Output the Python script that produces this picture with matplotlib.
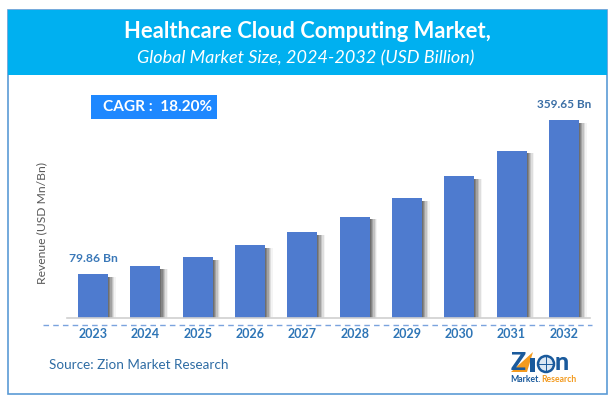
import matplotlib
matplotlib.use("Agg")
import matplotlib.pyplot as plt
import matplotlib.patheffects as pe
from matplotlib.patches import Rectangle, Circle, Polygon

years = ["2023", "2024", "2025", "2026", "2027", "2028", "2029", "2030", "2031", "2032"]
revenue = [79.86, 94.0, 111.0, 132.0, 156.0, 184.0, 218.0, 258.0, 304.0, 359.65]
first_label = "79.86 Bn"
last_label = "359.65 Bn"
W, H = 615, 403
BLUE = "#2e75b6"

plt.rcParams["font.family"] = ["Lato", "DejaVu Sans"]
fig = plt.figure(figsize=(W / 100, H / 100), dpi=100)

# background layer in pixel coords, y down like the picture
bg = fig.add_axes([0, 0, 1, 1])
bg.set_xlim(0, W)
bg.set_ylim(H, 0)
bg.axis("off")
bg.add_patch(Rectangle((8, 10), 599, 384, fc="white", ec="#5b9bd5", lw=1.2))
bg.add_patch(Rectangle((8, 10), 599, 65, fc="#00b0f0", ec="none"))
bg.text(307, 31, "Healthcare Cloud Computing Market,", color="white", fontsize=15.8,
        fontweight="bold", ha="center", va="center")
bg.text(306, 58, "Global Market Size, 2024-2032 (USD Billion)", color="white", fontsize=13,
        style="italic", ha="center", va="center")
bg.add_patch(Rectangle((91, 95), 126, 23.5, fc="#1e88ff", ec="none"))
bg.text(157.5, 107, "CAGR :  18.20%", color="white", fontsize=11.1, fontweight="bold",
        ha="center", va="center")
bg.text(42, 223, "Revenue (USD Mn/Bn)", color="#595959", fontsize=8.7, rotation=90,
        ha="center", va="center")
bg.plot([43, 592], [325, 325], color="#7aa3de", lw=1, ls=(0, (4, 3)))
bg.text(49, 365, "Source: Zion Market Research", color="#2e6ca4", fontsize=9.7,
        ha="left", va="center")

# logo, rough
navy = "#1a5a9c"
orange = "#f39a1e"
bg.text(511, 362, "Z", color=navy, fontsize=18, fontweight="black", ha="left", va="center")
bg.add_patch(Polygon([[511, 372], [533, 352], [527, 372]], fc=orange, ec="none"))
bg.add_patch(Rectangle((530, 358), 5, 14, fc=navy, ec="none"))
bg.add_patch(Circle((546, 364), 8, fc="#dce8f4", ec=navy, lw=1.8))
bg.plot([538, 554], [364, 364], color=navy, lw=0.7)
bg.plot([546, 546], [356, 372], color=navy, lw=0.7)
bg.text(555, 362, "n", color=navy, fontsize=18, fontweight="black", ha="left", va="center")
bg.text(510, 379, "Market.", color=navy, fontsize=6.2, fontweight="bold", ha="left", va="center")
bg.text(541, 379, "Research", color=orange, fontsize=6.2, fontweight="bold", ha="left", va="center")

# bars
base_px, top_px = 318, 110
ax = fig.add_axes([67 / W, 1 - base_px / H, (590 - 67) / W, (base_px - top_px) / H])
ax.patch.set_alpha(0)
x = list(range(len(years)))
shadow = [pe.SimplePatchShadow(offset=(k, -2), shadow_rgbFace="#444444", alpha=a)
          for k, a in ((5.5, 0.06), (4.5, 0.12), (3.5, 0.18), (2.5, 0.25), (1.5, 0.3), (0.7, 0.35))]
bars = ax.bar(x, revenue, width=0.575, color="#4e7bcf", zorder=3)
for b in bars:
    b.set_path_effects(shadow + [pe.Normal()])
ax.set_xlim(-0.5, 9.5)
ax.set_ylim(0, 377.8)
for s in ["top", "left", "right"]:
    ax.spines[s].set_visible(False)
ax.spines["bottom"].set_color("#d0d0d0")
ax.spines["bottom"].set_linewidth(1.2)
ax.spines["bottom"].set_zorder(5)
ax.set_yticks([])
ax.set_xticks(x)
ax.set_xticklabels(years, color=BLUE, fontsize=9, fontweight="bold")
ax.tick_params(axis="x", length=0, pad=7.5)
ax.annotate(first_label, (x[0], revenue[0]), xytext=(0, 7), textcoords="offset points",
            ha="center", va="bottom", color="#3a78b8", fontsize=8.7, fontweight="bold")
ax.annotate(last_label, (x[-1], revenue[-1]), xytext=(0, 7), textcoords="offset points",
            ha="center", va="bottom", color="#3a6ea5", fontsize=8.5, fontweight="bold",
            annotation_clip=False)

fig.savefig("out.png", dpi=100)
